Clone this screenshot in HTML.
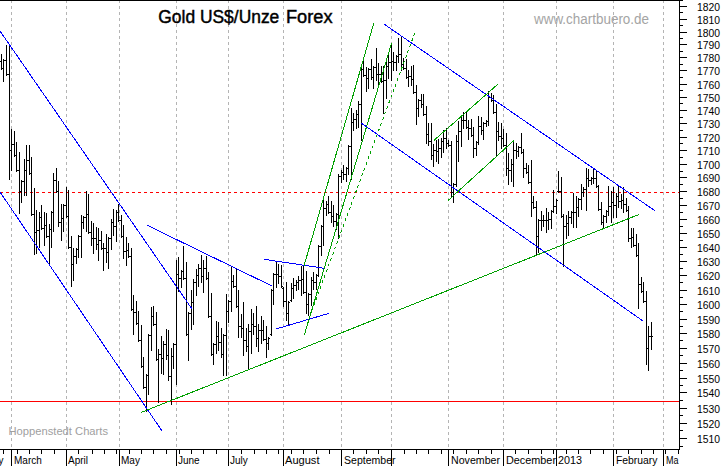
<!DOCTYPE html><html><head><meta charset="utf-8"><style>html,body{margin:0;padding:0;background:#fff;overflow:hidden}svg{display:block}</style></head><body><svg width="723" height="466" viewBox="0 0 723 466" shape-rendering="crispEdges"><rect x="0" y="0" width="723" height="466" fill="#fff"/><line x1="11.5" y1="0" x2="11.5" y2="449" stroke="#b4b4b4" stroke-width="1" stroke-dasharray="3,3"/><line x1="66.5" y1="0" x2="66.5" y2="449" stroke="#b4b4b4" stroke-width="1" stroke-dasharray="3,3"/><line x1="119.5" y1="0" x2="119.5" y2="449" stroke="#b4b4b4" stroke-width="1" stroke-dasharray="3,3"/><line x1="176.5" y1="0" x2="176.5" y2="449" stroke="#b4b4b4" stroke-width="1" stroke-dasharray="3,3"/><line x1="228.5" y1="0" x2="228.5" y2="449" stroke="#b4b4b4" stroke-width="1" stroke-dasharray="3,3"/><line x1="283.5" y1="0" x2="283.5" y2="449" stroke="#b4b4b4" stroke-width="1" stroke-dasharray="3,3"/><line x1="341.5" y1="0" x2="341.5" y2="449" stroke="#b4b4b4" stroke-width="1" stroke-dasharray="3,3"/><line x1="391.5" y1="0" x2="391.5" y2="449" stroke="#b4b4b4" stroke-width="1" stroke-dasharray="3,3"/><line x1="448.5" y1="0" x2="448.5" y2="449" stroke="#b4b4b4" stroke-width="1" stroke-dasharray="3,3"/><line x1="503.5" y1="0" x2="503.5" y2="449" stroke="#b4b4b4" stroke-width="1" stroke-dasharray="3,3"/><line x1="556.5" y1="0" x2="556.5" y2="449" stroke="#b4b4b4" stroke-width="1" stroke-dasharray="3,3"/><line x1="613.5" y1="0" x2="613.5" y2="449" stroke="#b4b4b4" stroke-width="1" stroke-dasharray="3,3"/><line x1="663.5" y1="0" x2="663.5" y2="449" stroke="#b4b4b4" stroke-width="1" stroke-dasharray="3,3"/><line x1="0" y1="192.5" x2="679" y2="192.5" stroke="#ff0000" stroke-width="1" stroke-dasharray="3,3"/><line x1="0" y1="401.5" x2="679" y2="401.5" stroke="#ff0000" stroke-width="1"/><path d="M1.5 54V70M0 61.5H1M2 68.5H3M3.5 59V82M2 68.5H3M4 60.5H5M6.5 45V76M5 60.5H6M7 74.5H8M9.5 45V180M8 74.5H9M10 150.5H11M11.5 129V171M10 150.5H11M12 144.5H13M14.5 131V157M13 144.5H14M15 155.5H16M16.5 142V172M15 155.5H16M17 170.5H18M19.5 152V214M18 170.5H19M20 191.5H21M21.5 180V203M20 191.5H21M22 181.5H23M24.5 159V196M23 181.5H24M25 170.5H26M26.5 145V196M25 170.5H26M27 160.5H28M29.5 145V175M28 160.5H29M30 173.5H31M31.5 157V216M30 173.5H31M32 214.5H33M34.5 188V255M33 214.5H34M35 232.5H36M36.5 210V254M35 232.5H36M37 230.5H38M39.5 212V248M38 230.5H39M40 217.5H41M41.5 205V230M40 217.5H41M42 228.5H43M44.5 212V246M43 228.5H44M45 225.5H46M46.5 213V238M45 225.5H46M47 236.5H48M49.5 224V264M48 236.5H49M50 229.5H51M51.5 211V248M50 229.5H51M52 212.5H53M53.5 173V232M52 212.5H53M54 180.5H55M56.5 168V193M55 180.5H56M57 191.5H58M58.5 181V227M57 191.5H58M59 222.5H60M61.5 204V241M60 222.5H61M62 218.5H63M63.5 204V232M62 218.5H63M64 205.5H65M66.5 187V218M65 205.5H66M67 216.5H68M68.5 190V249M67 216.5H68M69 247.5H70M71.5 236V287M70 247.5H71M72 264.5H73M73.5 248V281M72 264.5H73M74 256.5H75M76.5 248V264M75 256.5H76M77 249.5H78M78.5 235V258M77 249.5H78M79 236.5H80M81.5 215V258M80 236.5H81M82 222.5H83M83.5 216V229M82 222.5H83M84 217.5H85M86.5 191V232M85 217.5H86M87 214.5H88M88.5 194V234M87 214.5H88M89 232.5H90M91.5 221V246M90 232.5H91M92 238.5H93M93.5 223V254M92 238.5H93M94 238.5H95M96.5 227V250M95 238.5H96M97 244.5H98M98.5 228V261M97 244.5H98M99 240.5H100M101.5 231V250M100 240.5H101M102 248.5H103M103.5 243V271M102 248.5H103M104 248.5H105M106.5 234V263M105 248.5H106M107 252.5H108M108.5 237V269M107 252.5H108M109 238.5H110M111.5 219V250M110 238.5H111M112 222.5H113M113.5 209V236M112 222.5H113M114 226.5H115M116.5 210V242M115 226.5H116M117 212.5H118M118.5 204V222M117 212.5H118M119 220.5H120M121.5 215V238M120 220.5H121M122 236.5H123M123.5 225V259M122 236.5H123M124 251.5H125M126.5 237V266M125 251.5H126M127 250.5H128M128.5 243V258M127 250.5H128M129 256.5H130M131.5 248V311M130 256.5H131M132 309.5H133M133.5 295V335M132 309.5H133M134 312.5H135M136.5 301V325M135 312.5H136M137 323.5H138M138.5 311V342M137 323.5H138M139 340.5H140M141.5 325V368M140 340.5H141M142 366.5H143M143.5 357V389M142 366.5H143M144 387.5H145M146.5 374V412M145 387.5H146M147 375.5H148M148.5 334V395M147 375.5H148M149 335.5H150M151.5 307V351M150 335.5H151M152 316.5H153M153.5 306V326M152 316.5H153M154 324.5H155M156.5 312V361M155 324.5H156M157 359.5H158M158.5 349V403M157 359.5H158M159 354.5H160M161.5 336V374M160 354.5H161M162 358.5H163M163.5 341V375M162 358.5H163M164 344.5H165M166.5 329V360M165 344.5H166M167 355.5H168M168.5 330V381M167 355.5H168M169 376.5H170M171.5 348V405M170 376.5H171M172 356.5H173M173.5 343V369M172 356.5H173M174 344.5H175M176.5 260V385M175 344.5H176M177 274.5H178M178.5 257V292M177 274.5H178M179 278.5H180M181.5 270V288M180 278.5H181M182 271.5H183M183.5 246V280M182 271.5H183M184 278.5H185M186.5 262V336M185 278.5H186M187 334.5H188M188.5 312V361M187 334.5H188M189 313.5H190M191.5 290V330M190 313.5H191M192 302.5H193M193.5 279V325M192 302.5H193M194 282.5H195M196.5 269V296M195 282.5H196M197 275.5H198M198.5 264V287M197 275.5H198M199 268.5H200M201.5 255V283M200 268.5H201M202 276.5H203M203.5 260V293M202 276.5H203M204 268.5H205M206.5 256V280M205 268.5H206M207 278.5H208M208.5 272V318M207 278.5H208M209 316.5H210M211.5 293V356M210 316.5H211M212 354.5H213M213.5 343V365M212 354.5H213M214 344.5H215M216.5 321V354M215 344.5H216M217 336.5H218M218.5 322V351M217 336.5H218M219 342.5H220M221.5 328V358M220 342.5H221M222 354.5H223M223.5 334V376M222 354.5H223M224 335.5H225M226.5 294V376M225 335.5H226M227 311.5H228M228.5 300V323M227 311.5H228M229 301.5H230M231.5 267V312M230 301.5H231M232 281.5H233M233.5 275V288M232 281.5H233M234 286.5H235M236.5 269V308M235 286.5H236M237 306.5H238M238.5 290V338M237 306.5H238M239 326.5H240M241.5 314V338M240 326.5H241M242 328.5H243M243.5 302V356M242 328.5H243M244 340.5H245M246.5 328V352M245 340.5H246M247 346.5H248M248.5 324V370M247 346.5H248M249 331.5H250M251.5 309V354M250 331.5H251M252 324.5H253M253.5 313V335M252 324.5H253M254 326.5H255M256.5 306V347M255 326.5H256M257 338.5H258M258.5 324V352M257 338.5H258M259 330.5H260M261.5 316V344M260 330.5H261M262 330.5H263M263.5 320V341M262 330.5H263M264 339.5H265M266.5 326V358M265 339.5H266M267 343.5H268M268.5 337V350M267 343.5H268M269 338.5H270M271.5 289V336M270 334.5H271M272 290.5H273M273.5 273V305M272 290.5H273M274 274.5H275M276.5 262V288M275 274.5H276M277 274.5H278M278.5 264V284M277 274.5H278M279 276.5H280M281.5 265V288M280 276.5H281M282 286.5H283M283.5 287V307M282 288.5H283M284 301.5H285M286.5 282V321M285 301.5H286M287 313.5H288M288.5 301V326M287 313.5H288M289 302.5H290M291.5 283V302M290 300.5H291M292 288.5H293M293.5 278V299M292 288.5H293M294 285.5H295M296.5 280V291M295 285.5H296M297 282.5H298M298.5 276V290M297 282.5H298M299 280.5H300M301.5 266V296M300 280.5H301M302 279.5H303M303.5 265V294M302 279.5H303M304 292.5H305M306.5 271V314M305 292.5H306M307 304.5H308M308.5 293V316M307 304.5H308M309 294.5H310M311.5 277V306M310 294.5H311M312 280.5H313M313.5 272V290M312 280.5H313M314 282.5H315M316.5 274V290M315 282.5H316M317 275.5H318M318.5 245V277M317 275.5H318M319 246.5H320M321.5 225V256M320 246.5H321M322 226.5H323M323.5 200V246M322 226.5H323M324 208.5H325M326.5 201V216M325 208.5H326M327 204.5H328M328.5 196V214M327 204.5H328M329 212.5H330M331.5 201V223M330 212.5H331M332 216.5H333M333.5 205V227M332 216.5H333M334 221.5H335M336.5 213V230M335 221.5H336M337 214.5H338M338.5 174V239M337 214.5H338M339 176.5H340M341.5 170V183M340 176.5H341M342 172.5H343M343.5 165V180M342 172.5H343M344 174.5H345M346.5 167V182M345 174.5H346M347 168.5H348M348.5 145V175M347 168.5H348M349 146.5H350M351.5 108V180M350 146.5H351M352 122.5H353M353.5 113V131M352 122.5H353M354 119.5H355M356.5 110V129M355 119.5H356M357 114.5H358M358.5 101V128M357 114.5H358M359 104.5H360M361.5 68V141M360 104.5H361M362 69.5H363M363.5 61V77M362 69.5H363M364 75.5H365M366.5 67V92M365 75.5H366M367 78.5H368M368.5 68V89M367 78.5H368M369 69.5H370M371.5 59V80M370 69.5H371M372 77.5H373M373.5 66V89M372 77.5H373M374 67.5H375M376.5 48V81M375 67.5H376M377 74.5H378M378.5 63V85M377 74.5H378M379 74.5H380M381.5 66V83M380 74.5H381M382 81.5H383M383.5 66V114M382 81.5H383M384 80.5H385M386.5 62V99M385 80.5H386M387 66.5H388M388.5 54V79M387 66.5H388M389 62.5H390M391.5 44V81M390 62.5H391M392 61.5H393M393.5 52V71M392 61.5H393M394 62.5H395M396.5 55V71M395 62.5H396M397 56.5H398M398.5 38V63M397 56.5H398M399 54.5H400M401.5 37V71M400 54.5H401M402 64.5H403M403.5 58V70M402 64.5H403M404 68.5H405M406.5 59V79M405 68.5H406M407 77.5H408M408.5 70V87M407 77.5H408M409 76.5H410M411.5 66V86M410 76.5H411M412 79.5H413M413.5 65V94M412 79.5H413M414 92.5H415M416.5 85V125M415 92.5H416M417 108.5H418M418.5 99V117M417 108.5H418M419 100.5H420M421.5 94V108M420 100.5H421M422 104.5H423M423.5 94V116M422 104.5H423M424 114.5H425M426.5 106V144M425 114.5H426M427 134.5H428M428.5 123V146M427 134.5H428M429 141.5H430M431.5 123V160M430 141.5H431M432 155.5H433M433.5 144V167M432 155.5H433M434 150.5H435M436.5 140V162M435 150.5H436M437 151.5H438M438.5 139V164M437 151.5H438M439 148.5H440M441.5 138V158M440 148.5H441M442 141.5H443M443.5 130V153M442 141.5H443M444 138.5H445M446.5 128V149M445 138.5H446M447 143.5H448M448.5 140V147M447 143.5H448M449 145.5H450M451.5 141V197M450 145.5H451M452 192.5H453M453.5 183V203M452 192.5H453M454 184.5H455M456.5 135V187M455 184.5H456M457 141.5H458M458.5 121V162M457 141.5H458M459 131.5H460M461.5 116V147M460 131.5H461M462 120.5H463M463.5 112V129M462 120.5H463M464 120.5H465M466.5 112V129M465 120.5H466M467 127.5H468M468.5 120V140M467 127.5H468M469 128.5H470M471.5 119V137M470 128.5H471M472 135.5H473M473.5 127V158M472 135.5H473M474 148.5H475M476.5 141V156M475 148.5H476M477 142.5H478M478.5 116V145M477 142.5H478M479 126.5H480M481.5 117V135M480 126.5H481M482 130.5H483M483.5 122V140M482 130.5H483M484 123.5H485M486.5 120V127M485 123.5H486M487 121.5H488M488.5 91V126M487 121.5H488M489 97.5H490M491.5 93V102M490 97.5H491M492 100.5H493M493.5 95V114M492 100.5H493M494 112.5H495M496.5 104V157M495 112.5H496M497 131.5H498M498.5 122V141M497 131.5H498M499 136.5H500M501.5 123V149M500 136.5H501M502 138.5H503M503.5 129V147M502 138.5H503M504 145.5H505M506.5 133V176M505 145.5H506M507 168.5H508M508.5 153V185M507 168.5H508M509 170.5H510M511.5 159V182M510 170.5H511M512 164.5H513M513.5 141V187M512 164.5H513M514 150.5H515M516.5 143V159M515 150.5H516M517 151.5H518M518.5 146V157M517 151.5H518M519 147.5H520M521.5 133V154M520 147.5H521M522 152.5H523M523.5 149V178M522 152.5H523M524 168.5H525M526.5 163V174M525 168.5H526M527 172.5H528M528.5 165V184M527 172.5H528M529 182.5H530M531.5 160V217M530 182.5H531M532 202.5H533M533.5 196V209M532 202.5H533M534 207.5H535M536.5 201V255M535 207.5H536M537 236.5H538M538.5 219V253M537 236.5H538M539 220.5H540M541.5 211V231M540 220.5H541M542 220.5H543M543.5 215V227M542 220.5H543M544 220.5H545M546.5 208V233M545 220.5H546M547 220.5H548M548.5 212V230M547 220.5H548M549 219.5H550M551.5 210V229M550 219.5H551M552 211.5H553M553.5 190V213M552 211.5H553M554 206.5H555M556.5 199V214M555 206.5H556M557 200.5H558M558.5 171V193M557 191.5H558M559 191.5H560M561.5 177V218M560 191.5H561M562 216.5H563M563.5 214V267M562 216.5H563M564 226.5H565M566.5 215V239M565 226.5H566M567 223.5H568M568.5 211V236M567 223.5H568M569 217.5H570M571.5 211V224M570 217.5H571M572 212.5H573M573.5 193V228M572 212.5H573M574 212.5H575M576.5 196V228M575 212.5H576M577 207.5H578M578.5 198V217M577 207.5H578M579 199.5H580M581.5 184V210M580 199.5H581M582 192.5H583M583.5 187V197M582 192.5H583M584 189.5H585M586.5 168V211M585 189.5H586M587 178.5H588M588.5 169V187M587 178.5H588M589 180.5H590M591.5 177V185M590 180.5H591M592 178.5H593M593.5 169V184M592 178.5H593M594 178.5H595M596.5 170V188M595 178.5H596M597 186.5H598M598.5 185V211M597 186.5H598M599 209.5H600M601.5 202V225M600 209.5H601M602 222.5H603M603.5 215V229M602 222.5H603M604 216.5H605M606.5 210V223M605 216.5H606M607 211.5H608M608.5 186V216M607 211.5H608M609 206.5H610M611.5 191V223M610 206.5H611M612 202.5H613M613.5 187V218M612 202.5H613M614 205.5H615M616.5 193V218M615 205.5H616M617 196.5H618M618.5 186V208M617 196.5H618M619 201.5H620M621.5 194V209M620 201.5H621M622 200.5H623M623.5 187V213M622 200.5H623M624 204.5H625M626.5 198V212M625 204.5H626M627 210.5H628M628.5 206V242M627 210.5H628M629 238.5H630M631.5 228V248M630 238.5H631M632 237.5H633M633.5 228V247M632 237.5H633M634 245.5H635M636.5 234V257M635 245.5H636M637 255.5H638M638.5 243V309M637 255.5H638M639 284.5H640M641.5 277V293M640 284.5H641M642 291.5H643M643.5 282V303M642 291.5H643M644 301.5H645M646.5 291V365M645 301.5H646M647 348.5H648M648.5 326V371M647 348.5H648M649 336.5H650M651.5 322V350M650 336.5H651M652 336.5H653" stroke="#000" stroke-width="1" fill="none"/><line x1="0" y1="31" x2="192" y2="309" stroke="#0000ff" stroke-width="1"/><line x1="0" y1="192" x2="162" y2="431" stroke="#0000ff" stroke-width="1"/><line x1="147" y1="225.2" x2="272" y2="286" stroke="#0000ff" stroke-width="1"/><line x1="264" y1="259.3" x2="324.4" y2="268.3" stroke="#0000ff" stroke-width="1"/><line x1="276" y1="329" x2="328.7" y2="313.4" stroke="#0000ff" stroke-width="1"/><line x1="141" y1="412.5" x2="638.9" y2="214.5" stroke="#00a000" stroke-width="1"/><line x1="304" y1="266" x2="373.8" y2="23.1" stroke="#00a000" stroke-width="1"/><line x1="304.3" y1="335" x2="391.5" y2="43.3" stroke="#00a000" stroke-width="1"/><line x1="309.5" y1="317" x2="415.6" y2="30.9" stroke="#00a000" stroke-width="1" stroke-dasharray="3,3"/><line x1="383.9" y1="24" x2="655.6" y2="211.2" stroke="#0000ff" stroke-width="1"/><line x1="361.4" y1="123.2" x2="643" y2="321" stroke="#0000ff" stroke-width="1"/><line x1="433.9" y1="140.4" x2="498" y2="84.1" stroke="#00a000" stroke-width="1"/><line x1="448.2" y1="200.4" x2="513.8" y2="140.6" stroke="#00a000" stroke-width="1"/><line x1="0" y1="0.5" x2="683" y2="0.5" stroke="#000" stroke-width="1"/><line x1="679.5" y1="0" x2="679.5" y2="450" stroke="#000" stroke-width="1"/><line x1="0" y1="449.5" x2="680" y2="449.5" stroke="#000" stroke-width="1"/><path d="M680 446.5h3M680 438.5h7M680 430.5h3M680 423.5h7M680 415.5h3M680 408.5h7M680 400.5h3M680 392.5h7M680 385.5h3M680 378.5h7M680 370.5h3M680 363.5h7M680 355.5h3M680 348.5h7M680 340.5h3M680 333.5h7M680 326.5h3M680 319.5h7M680 311.5h3M680 304.5h7M680 297.5h3M680 290.5h7M680 282.5h3M680 275.5h7M680 268.5h3M680 261.5h7M680 254.5h3M680 247.5h7M680 240.5h3M680 233.5h7M680 226.5h3M680 219.5h7M680 212.5h3M680 205.5h7M680 198.5h3M680 191.5h7M680 184.5h3M680 177.5h7M680 171.5h3M680 164.5h7M680 157.5h3M680 150.5h7M680 143.5h3M680 137.5h7M680 130.5h3M680 123.5h7M680 117.5h3M680 110.5h7M680 103.5h3M680 97.5h7M680 90.5h3M680 84.5h7M680 77.5h3M680 70.5h7M680 64.5h3M680 57.5h7M680 51.5h3M680 44.5h7M680 38.5h3M680 32.5h7M680 25.5h3M680 19.5h7M680 12.5h3M680 6.5h7" stroke="#000" stroke-width="1"/><g font-family="Liberation Sans, sans-serif" font-size="10" fill="#000"><text x="697" y="443.4" textLength="23" lengthAdjust="spacingAndGlyphs">1510</text><text x="697" y="428.4" textLength="23" lengthAdjust="spacingAndGlyphs">1520</text><text x="697" y="413.4" textLength="23" lengthAdjust="spacingAndGlyphs">1530</text><text x="697" y="397.4" textLength="23" lengthAdjust="spacingAndGlyphs">1540</text><text x="697" y="383.4" textLength="23" lengthAdjust="spacingAndGlyphs">1550</text><text x="697" y="368.4" textLength="23" lengthAdjust="spacingAndGlyphs">1560</text><text x="697" y="353.4" textLength="23" lengthAdjust="spacingAndGlyphs">1570</text><text x="697" y="338.4" textLength="23" lengthAdjust="spacingAndGlyphs">1580</text><text x="697" y="324.4" textLength="23" lengthAdjust="spacingAndGlyphs">1590</text><text x="697" y="309.4" textLength="23" lengthAdjust="spacingAndGlyphs">1600</text><text x="697" y="295.4" textLength="23" lengthAdjust="spacingAndGlyphs">1610</text><text x="697" y="280.4" textLength="23" lengthAdjust="spacingAndGlyphs">1620</text><text x="697" y="266.4" textLength="23" lengthAdjust="spacingAndGlyphs">1630</text><text x="697" y="252.4" textLength="23" lengthAdjust="spacingAndGlyphs">1640</text><text x="697" y="238.4" textLength="23" lengthAdjust="spacingAndGlyphs">1650</text><text x="697" y="224.4" textLength="23" lengthAdjust="spacingAndGlyphs">1660</text><text x="697" y="210.4" textLength="23" lengthAdjust="spacingAndGlyphs">1670</text><text x="697" y="196.4" textLength="23" lengthAdjust="spacingAndGlyphs">1680</text><text x="697" y="182.4" textLength="23" lengthAdjust="spacingAndGlyphs">1690</text><text x="697" y="169.4" textLength="23" lengthAdjust="spacingAndGlyphs">1700</text><text x="697" y="155.4" textLength="23" lengthAdjust="spacingAndGlyphs">1710</text><text x="697" y="142.4" textLength="23" lengthAdjust="spacingAndGlyphs">1720</text><text x="697" y="128.4" textLength="23" lengthAdjust="spacingAndGlyphs">1730</text><text x="697" y="115.4" textLength="23" lengthAdjust="spacingAndGlyphs">1740</text><text x="697" y="102.4" textLength="23" lengthAdjust="spacingAndGlyphs">1750</text><text x="697" y="89.4" textLength="23" lengthAdjust="spacingAndGlyphs">1760</text><text x="697" y="75.4" textLength="23" lengthAdjust="spacingAndGlyphs">1770</text><text x="697" y="62.4" textLength="23" lengthAdjust="spacingAndGlyphs">1780</text><text x="697" y="49.4" textLength="23" lengthAdjust="spacingAndGlyphs">1790</text><text x="697" y="37.4" textLength="23" lengthAdjust="spacingAndGlyphs">1800</text><text x="697" y="24.4" textLength="23" lengthAdjust="spacingAndGlyphs">1810</text><text x="697" y="11.4" textLength="23" lengthAdjust="spacingAndGlyphs">1820</text></g><path d="M3.5 450v4M17.5 450v4M29.5 450v4M41.5 450v4M54.5 450v4M78.5 450v4M92.5 450v4M104.5 450v4M116.5 450v4M129.5 450v4M141.5 450v4M153.5 450v4M166.5 450v4M179.5 450v4M191.5 450v4M203.5 450v4M216.5 450v4M241.5 450v4M254.5 450v4M266.5 450v4M278.5 450v4M291.5 450v4M303.5 450v4M316.5 450v4M329.5 450v4M353.5 450v4M366.5 450v4M378.5 450v4M404.5 450v4M416.5 450v4M428.5 450v4M441.5 450v4M453.5 450v4M466.5 450v4M478.5 450v4M491.5 450v4M515.5 450v4M528.5 450v4M541.5 450v4M553.5 450v4M566.5 450v4M578.5 450v4M590.5 450v4M603.5 450v4M616.5 450v4M628.5 450v4M641.5 450v4M653.5 450v4M665.5 450v4M678.5 450v4M11.5 450V466M66.5 450V466M119.5 450V466M176.5 450V466M228.5 450V466M283.5 450V466M341.5 450V466M391.5 450V466M448.5 450V466M503.5 450V466M556.5 450V466M613.5 450V466M663.5 450V466" stroke="#000" stroke-width="1"/><g font-family="Liberation Sans, sans-serif" font-size="10" fill="#000"><text x="-1.5" y="464">y</text><text x="14" y="464">March</text><text x="68" y="464">April</text><text x="121" y="464">May</text><text x="178" y="464">June</text><text x="230" y="464">July</text><text x="285" y="464" textLength="34.5" lengthAdjust="spacingAndGlyphs">August</text><text x="344" y="464" textLength="51.5" lengthAdjust="spacingAndGlyphs">September</text><text x="451" y="464" textLength="49" lengthAdjust="spacingAndGlyphs">November</text><text x="506" y="464" textLength="50" lengthAdjust="spacingAndGlyphs">December</text><text x="558" y="464" textLength="24" lengthAdjust="spacingAndGlyphs">2013</text><text x="616" y="464" textLength="41.5" lengthAdjust="spacingAndGlyphs">February</text><text x="666" y="464" textLength="12.5" lengthAdjust="spacingAndGlyphs">Ma</text></g><g font-family="Liberation Sans, sans-serif" font-size="18" fill="#000" stroke="#000" stroke-width="0.45"><text x="158.3" y="23" textLength="121" lengthAdjust="spacingAndGlyphs">Gold US$/Unze</text><text x="286" y="23" textLength="46.5" lengthAdjust="spacingAndGlyphs">Forex</text></g><text x="534" y="24" font-family="Liberation Sans, sans-serif" font-size="14" fill="#a4a4a4" textLength="115" lengthAdjust="spacingAndGlyphs">www.chartbuero.de</text><text x="8.5" y="435" font-family="Liberation Sans, sans-serif" font-size="10.5" fill="#a0a0a0" textLength="99.5" lengthAdjust="spacingAndGlyphs">Hoppenstedt Charts</text></svg></body></html>
